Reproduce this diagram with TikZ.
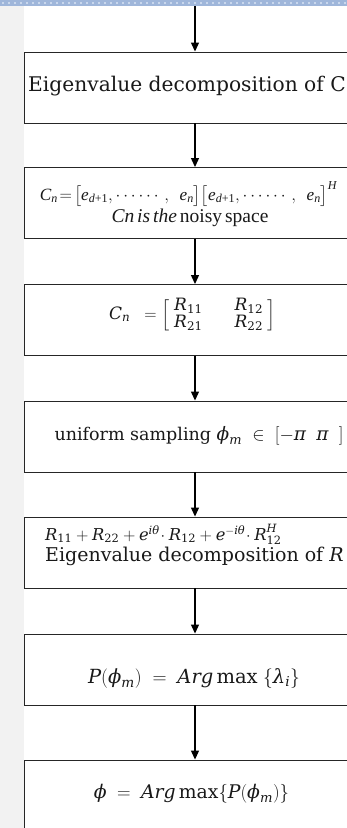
\RequirePackage{fix-cm}
\documentclass[tikz,border=0pt]{standalone}
\usepackage{amsmath}
\usepackage{fontspec}
\setmainfont{DejaVu Serif}
\newfontfamily\timesf{Liberation Serif}
\usetikzlibrary{arrows.meta}
\definecolor{band}{HTML}{9FB6DA}
\definecolor{banddot}{HTML}{C9D7EC}
\definecolor{strip}{HTML}{F2F2F2}
\newcommand{\V}[1]{\text{\itshape #1}}
\begin{document}
\begin{tikzpicture}[x=1pt,y=-1pt,
  box/.style={draw=black!85, line width=0.9pt, minimum width=342pt, minimum height=71pt, inner sep=0pt, fill=white},
  txt/.style={inner sep=0pt, anchor=base, text=black!90},
  txtw/.style={inner sep=0pt, anchor=base west, text=black!90},
  arr/.style={-{Triangle[length=9pt,width=8pt]}, line width=1.2pt}]
\useasboundingbox (0,0) rectangle (347,828);
\clip (0,0) rectangle (347,828);
\fill[white] (0,0) rectangle (347,828);
\fill[strip] (0,6) rectangle (24,828);
\fill[band] (0,0) rectangle (347,6);
\draw[banddot, line width=1.5pt, dash pattern=on 1.5pt off 4.5pt] (2,3) -- (347,3);
\coordinate (top) at (195,6);
\node[box] (b1) at (195,87.5) {};
\node[box] (b2) at (195,203) {};
\node[box] (b3) at (195,320) {};
\node[box] (b4) at (195,436.5) {};
\node[box] (b5) at (195,552.5) {};
\node[box] (b6) at (195,669.5) {};
\node[box] (b7) at (195,795.5) {};
\draw[arr] (top) -- (b1);
\draw[arr] (b1) -- (b2);
\draw[arr] (b2) -- (b3);
\draw[arr] (b3) -- (b4);
\draw[arr] (b4) -- (b5);
\draw[arr] (b5) -- (b6);
\draw[arr] (b6) -- (b7);
\node[txt] (t1) at (187,91.5) {\fontsize{20.2}{24}\selectfont Eigenvalue decomposition of C};
\node[txt] (t2a) at (188.5,200) {\timesf\fontsize{17.2}{21}\selectfont $\V{C}_{\V{n}}\!=\!\bigl[\V{e}_{\V{d}\text{+1}},\cdots\cdots,\;\,\V{e}_{\V{n}}\bigr]\bigl[\V{e}_{\V{d}\text{+1}},\cdots\cdots,\;\,\V{e}_{\V{n}}\bigr]^{\V{H}}$};
\node[txt] (t2b) at (190,222) {\timesf\fontsize{19.5}{22}\selectfont\spaceskip=0.15em \textit{Cn is the} noisy space};
\node[inner sep=0pt, text=black!90] (t3) at (192.5,315) {\fontsize{17}{20}\selectfont $\V{C}_{\V{n}}\;\;=\left[\renewcommand{\arraystretch}{0.78}\begin{array}{@{\;}c@{\hspace{32pt}}c@{\;}} \V{R}_{\text{11}} & \V{R}_{\text{12}}\\ \V{R}_{\text{21}} & \V{R}_{\text{22}}\end{array}\right]$};
\node[txt] (t4) at (199,440) {\fontsize{17.5}{20}\selectfont uniform sampling {\fontsize{18.5}{21}\selectfont$\V{ϕ}_{\V{m}}\;\in\;[-\V{π}\;\;\V{π}\;\;]$}};
\node[txtw] (t5a) at (45,540) {\fontsize{16.3}{19}\selectfont $\V{R}_{\text{11}}+\V{R}_{\text{22}}+\V{e}^{\V{iθ}}\!\cdot\V{R}_{\text{12}}+\V{e}^{-\V{iθ}}\!\cdot\V{R}^{\V{H}}_{\text{12}}$};
\node[txtw] (t5b) at (45,561) {\fontsize{19}{22}\selectfont Eigenvalue decomposition of \textit{R}};
\node[txt] (t6) at (194,683) {\fontsize{19.5}{22}\selectfont $\V{P}(\V{ϕ}_{\V{m}})\;=\;\V{Arg}\,\text{max}\;\{\V{λ}_{\V{i}}\}$};
\node[txt] (t7) at (191.5,798) {\fontsize{18.8}{21}\selectfont $\V{ϕ}\;=\;\V{Arg}\,\text{max}\{\V{P}(\V{ϕ}_{\V{m}})\}$};
\end{tikzpicture}
\end{document}
